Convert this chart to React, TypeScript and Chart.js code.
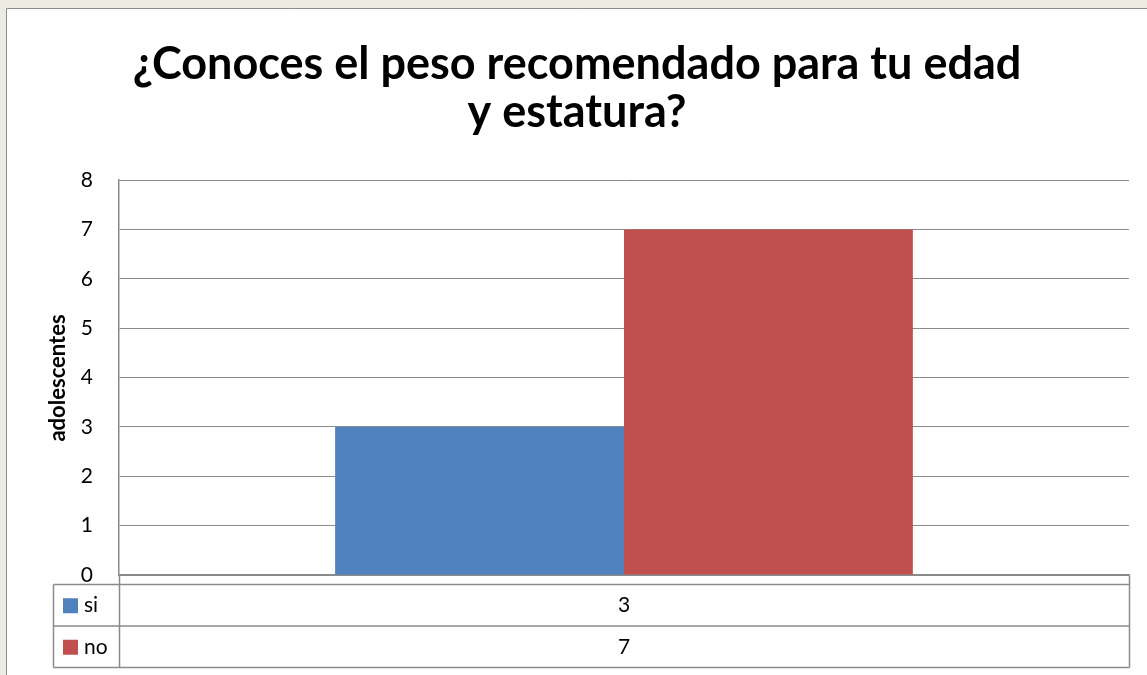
import React, { useEffect, useRef } from "react";
import { Chart, registerables } from "chart.js";

Chart.register(...registerables);

const categories = [""];
const seriesNames = ["si", "no"];
const siValues = [3];
const noValues = [7];
const seriesColors = ["#4f81bd", "#c0504d"];
const titleLines = ["¿Conoces el peso recomendado para tu edad", "y estatura?"];
const yAxisTitle = "adolescentes";
const yTicks = [0, 1, 2, 3, 4, 5, 6, 7, 8];

const FONT = "Lato, 'Open Sans', sans-serif";
const LINE = "#8a8a8a";

const framePlugin = {
  id: "frame",
  beforeDraw(chart: any) {
    const { ctx, width, height } = chart;
    ctx.save();
    ctx.fillStyle = "#eeece1";
    ctx.fillRect(0, 0, width, height);
    ctx.fillStyle = "#ffffff";
    ctx.fillRect(7, 9, width - 7, height - 9);
    ctx.strokeStyle = "#8c8c8c";
    ctx.lineWidth = 1;
    ctx.beginPath();
    ctx.moveTo(6.5, height);
    ctx.lineTo(6.5, 8.5);
    ctx.lineTo(width, 8.5);
    ctx.stroke();
    ctx.restore();
  },
  afterDraw(chart: any) {
    const { ctx, chartArea } = chart;
    const xScale = chart.scales.x;
    ctx.save();
    // Title
    ctx.fillStyle = "#000";
    ctx.textAlign = "center";
    ctx.textBaseline = "middle";
    ctx.font = `bold 45px ${FONT}`;
    const cx = 577;
    titleLines.forEach((t, i) => ctx.fillText(t, cx, 64 + i * 48));

    // Y axis title
    ctx.save();
    ctx.translate(58, 378);
    ctx.rotate(-Math.PI / 2);
    ctx.font = `bold 22px ${FONT}`;
    ctx.fillText(yAxisTitle, 0, 0);
    ctx.restore();

    // Data table
    const left = 53.5;
    const colX = Math.round(chartArea.left) + 0.5;
    const right = Math.round(chartArea.right) + 0.5;
    const axisY = Math.round(chartArea.bottom) + 0.5;
    const top = axisY + 9;
    const rowH = 41.5;
    const rows = [siValues, noValues];
    ctx.strokeStyle = LINE;
    ctx.lineWidth = 1.5;
    ctx.beginPath();
    ctx.moveTo(right, axisY);
    ctx.lineTo(right, top + rowH * rows.length);
    ctx.moveTo(colX, axisY);
    ctx.lineTo(colX, top + rowH * rows.length);
    ctx.moveTo(left, top);
    ctx.lineTo(left, top + rowH * rows.length);
    for (let r = 0; r <= rows.length; r++) {
      const y = top + r * rowH;
      ctx.moveTo(left, y);
      ctx.lineTo(right, y);
    }
    ctx.stroke();

    ctx.font = `21px ${FONT}`;
    ctx.textBaseline = "middle";
    rows.forEach((vals, r) => {
      const yMid = top + r * rowH + rowH / 2;
      ctx.fillStyle = seriesColors[r];
      ctx.fillRect(63, yMid - 7, 15, 15);
      ctx.fillStyle = "#000";
      ctx.textAlign = "left";
      ctx.fillText(seriesNames[r], 84, yMid);
      ctx.textAlign = "center";
      vals.forEach((v, i) => {
        ctx.fillText(String(v), xScale.getPixelForValue(i), yMid);
      });
    });
    ctx.restore();
  },
};

export default function App() {
  const ref = useRef<HTMLCanvasElement | null>(null);
  useEffect(() => {
    if (!ref.current) return;
    const chart = new Chart(ref.current, {
      type: "bar",
      data: {
        labels: categories,
        datasets: [
          { label: seriesNames[0], data: siValues, backgroundColor: seriesColors[0] },
          { label: seriesNames[1], data: noValues, backgroundColor: seriesColors[1] },
        ],
      },
      options: {
        animation: false,
        responsive: false,
        maintainAspectRatio: false,
        layout: { padding: { left: 0, top: 180, right: 18, bottom: 100 } },
        datasets: { bar: { categoryPercentage: 0.572, barPercentage: 1 } },
        plugins: {
          legend: { display: false },
          title: { display: false },
          tooltip: { enabled: false },
        },
        scales: {
          x: {
            grid: { display: false, drawTicks: false },
            border: { display: true, color: LINE, width: 1.5 },
            ticks: { display: false },
            afterFit: (s: any) => {
              s.height = 0;
            },
          },
          y: {
            min: 0,
            max: 8,
            afterBuildTicks: (s: any) => {
              s.ticks = yTicks.map((v) => ({ value: v }));
            },
            grid: { color: LINE, lineWidth: 1, drawTicks: false },
            border: { display: true, color: LINE, width: 1.5 },
            ticks: {
              padding: 26,
              color: "#000",
              font: { family: FONT, size: 21 },
            },
            afterFit: (s: any) => {
              s.width = 119;
            },
          },
        },
      },
      plugins: [framePlugin],
    });
    return () => chart.destroy();
  }, []);
  return (
    <div style={{ position: "fixed", left: 0, top: 0, width: 1147, height: 675 }}>
      <canvas ref={ref} width={1147} height={675} style={{ display: "block" }} />
    </div>
  );
}
